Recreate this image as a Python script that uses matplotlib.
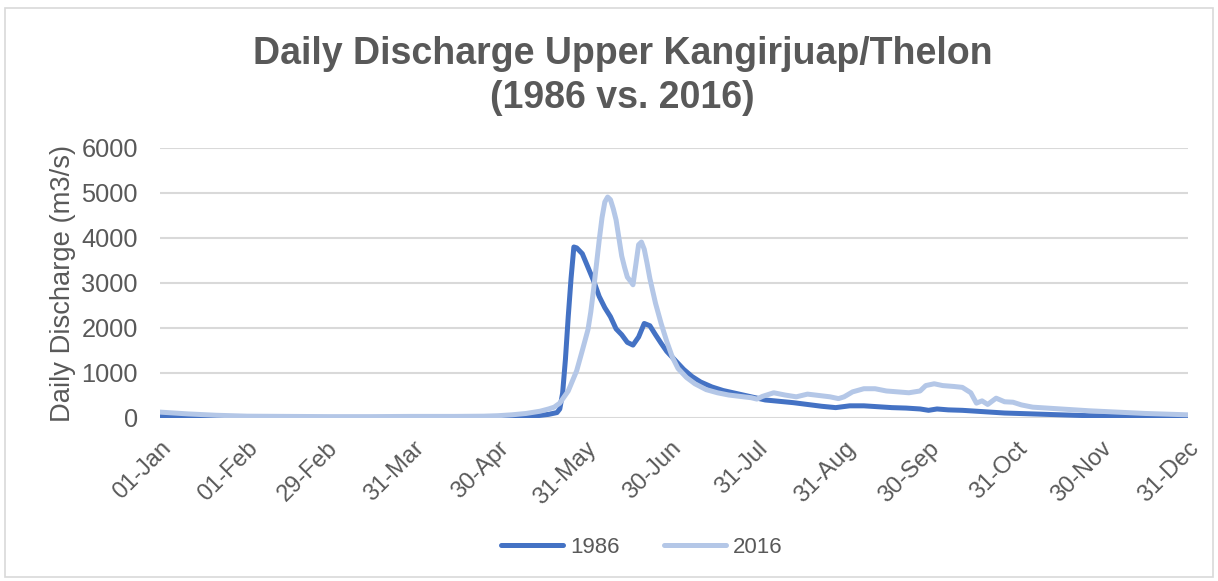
import matplotlib.pyplot as plt
from matplotlib.patches import Rectangle

# day of year (0 = 01-Jan) (m3/s)
days_1986 = [0, 10, 20, 31, 45, 60, 75, 90, 105, 120, 128, 134, 138, 141, 142, 143, 144, 145,
             146, 147, 148, 150, 152, 154, 156, 158, 160, 162, 164, 166, 168, 170, 172,
             174, 176, 178, 180, 183, 186, 189, 192, 196, 200, 205, 210, 215, 220, 225,
             230, 235, 240, 245, 250, 255, 260, 265, 270, 273, 276, 280, 285, 290, 300,
             310, 320, 330, 340, 350, 365]
q_1986 = [40, 30, 20, 15, 12, 10, 10, 10, 12, 15, 30, 50, 80, 120, 200, 550, 1300, 2250,
          3100, 3800, 3780, 3650, 3350, 3050, 2700, 2450, 2250, 1980, 1850, 1680, 1620, 1800, 2100,
          2050, 1850, 1660, 1480, 1280, 1080, 920, 800, 690, 610, 540, 470, 400, 370, 340,
          300, 260, 230, 270, 270, 250, 230, 220, 200, 170, 200, 180, 170, 150, 110,
          90, 70, 50, 40, 30, 20]

days_2016 = [0, 5, 10, 20, 31, 45, 60, 75, 90, 105, 115, 120, 125, 130, 135, 138, 140, 142,
             145, 148, 150, 152, 153, 154, 155, 156, 157, 158, 159, 160, 161, 162, 163, 164,
             165, 166, 167, 168, 169, 170, 171, 172, 173, 174, 176, 178, 180, 182, 184,
             187, 190, 194, 198, 202, 206, 210, 212, 214, 218, 222, 226, 230, 234, 238, 241,
             243, 246, 250, 254, 258, 262, 266, 270, 272, 275, 278, 282, 285, 288, 290, 292,
             294, 297, 300, 303, 306, 310, 320, 330, 340, 350, 365]
q_2016 = [130, 110, 90, 60, 40, 35, 30, 30, 35, 35, 40, 50, 70, 100, 150, 200, 240, 330,
          600, 1050, 1500, 1960, 2350, 2850, 3400, 3950, 4450, 4800, 4910, 4850, 4650, 4400, 4000, 3600,
          3350, 3130, 3050, 2960, 3400, 3850, 3910, 3750, 3440, 3100, 2550, 2100, 1700, 1350, 1100,
          900, 760, 630, 560, 510, 480, 450, 420, 480, 560, 510, 470, 530, 500, 470, 430,
          470, 580, 650, 650, 600, 580, 560, 600, 720, 760, 720, 700, 680, 560, 330, 380,
          300, 440, 360, 350, 290, 240, 200, 160, 130, 100, 70]

tick_days = [0, 31, 59, 90, 120, 151, 181, 212, 243, 273, 304, 334, 365]
tick_labels = ['01-Jan', '01-Feb', '29-Feb', '31-Mar', '30-Apr', '31-May', '30-Jun',
               '31-Jul', '31-Aug', '30-Sep', '31-Oct', '30-Nov', '31-Dec']

plt.rcParams['font.family'] = ['Liberation Sans', 'DejaVu Sans']
grey = '#595959'

fig = plt.figure(figsize=(12.18, 5.81), dpi=100)
ax = fig.add_axes([0.1314, 0.2806, 0.8436, 0.4647])

ax.plot(days_1986, q_1986, color='#4472C4', lw=3.6, solid_capstyle='round', label='1986')
ax.plot(days_2016, q_2016, color='#B4C7E7', lw=3.6, solid_capstyle='round', label='2016')

ax.set_xlim(0, 365)
ax.set_ylim(0, 6000)
ax.set_yticks(range(0, 6001, 1000))
ax.set_xticks(tick_days)
ax.set_xticklabels(tick_labels, rotation=45, ha='right', rotation_mode='anchor')
ax.tick_params(axis='both', length=0, colors=grey)
ax.tick_params(axis='x', pad=14, labelsize=17)
ax.tick_params(axis='y', pad=16, labelsize=18.3)
ax.grid(axis='y', color='#D9D9D9', lw=1.5)
ax.set_axisbelow(True)
for s in ax.spines.values():
    s.set_visible(False)

ax.set_ylabel('Daily Discharge (m3/s)', fontsize=19.7, color=grey, labelpad=4)

fig.text(0.511, 0.869, 'Daily Discharge Upper Kangirjuap/Thelon\n(1986 vs. 2016)',
         ha='center', va='center', fontsize=27, fontweight='bold', color=grey,
         linespacing=1.3)

fig.legend(loc='center', bbox_to_anchor=(0.527, 0.058), ncol=2, frameon=False,
           fontsize=16, labelcolor=grey, handlelength=2.8, columnspacing=2.0,
           handletextpad=0.3)

fig.patches.append(Rectangle((0.004, 0.007), 0.992, 0.98, transform=fig.transFigure,
                             fill=False, edgecolor='#D9D9D9', lw=1.2))

fig.savefig('out.png', dpi=100)
